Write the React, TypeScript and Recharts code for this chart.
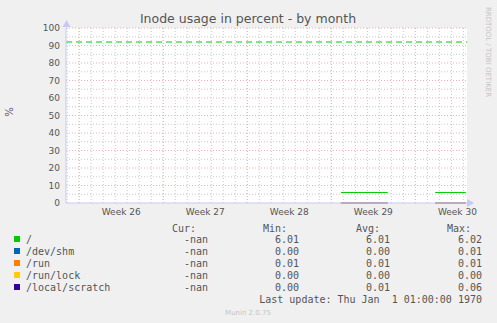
import { LineChart, Line, XAxis, YAxis, CartesianGrid, ReferenceLine } from 'recharts';

// x positions are days since the left edge of the month window
const days = [22.9, 24.9, 26.8, 28.8, 30.75, 33.3];
const rootFs = [6.01, 6.01, 6.02, null, 6.01, 6.02];
const devShm = [0.0, 0.0, 0.01, null, 0.0, 0.0];
const runFs = [0.01, 0.01, 0.01, null, 0.01, 0.01];
const runLock = [0.0, 0.0, 0.0, null, 0.0, 0.0];
const localScratch = [0.0, 0.01, 0.06, null, 0.0, 0.0];

const weekLabels = ['Week 26', 'Week 27', 'Week 28', 'Week 29', 'Week 30'];
const weekMids = [4.6, 11.6, 18.6, 25.6, 32.6];
const weekStarts = [1.1, 8.1, 15.1, 22.1, 29.1];
const dayLines = Array.from({ length: 34 }, (_, i) => 0.1 + i);
const yTicks = [0, 10, 20, 30, 40, 50, 60, 70, 80, 90, 100];
const yMinor = [5, 15, 25, 35, 45, 55, 65, 75, 85, 95];
const warning = 92;

const legendRows = [
  { name: '/', color: '#00cc00', cur: '-nan', min: '6.01', avg: '6.01', max: '6.02' },
  { name: '/dev/shm', color: '#0066b3', cur: '-nan', min: '0.00', avg: '0.00', max: '0.01' },
  { name: '/run', color: '#ff8000', cur: '-nan', min: '0.01', avg: '0.01', max: '0.01' },
  { name: '/run/lock', color: '#ffcc00', cur: '-nan', min: '0.00', avg: '0.00', max: '0.00' },
  { name: '/local/scratch', color: '#330099', cur: '-nan', min: '0.00', avg: '0.01', max: '0.06' },
];

const data = days.map((d, i) => ({
  day: d,
  root: rootFs[i],
  shm: devShm[i],
  run: runFs[i],
  lock: runLock[i],
  scratch: localScratch[i],
}));

const GRID_RED = '#ecb4b4';
const GRID_GRAY = '#c8c8c8';
const AXIS = '#c8c8f4';
const MONO = '"DejaVu Sans Mono", monospace';
const SANS = '"DejaVu Sans", sans-serif';

export default function App() {
  return (
    <div style={{ position: 'relative', width: 497, height: 323, background: '#f0f0f0' }}>
      <style>{`body{margin:0}`}</style>
      <LineChart width={497} height={323} data={data} margin={{ top: 28, right: 30, bottom: 100, left: 36 }}>
        <CartesianGrid fill="#ffffff" horizontal={false} vertical={false} />
        {dayLines.map((d) => (
          <ReferenceLine key={`d${d}`} x={d} stroke={GRID_GRAY} strokeDasharray="1 2" />
        ))}
        {yMinor.map((v) => (
          <ReferenceLine key={`m${v}`} y={v} stroke={GRID_GRAY} strokeDasharray="1 2" />
        ))}
        {weekStarts.map((d) => (
          <ReferenceLine key={`w${d}`} x={d} stroke={GRID_RED} strokeDasharray="1 2" />
        ))}
        {yTicks.slice(1).map((v) => (
          <ReferenceLine key={`y${v}`} y={v} stroke={GRID_RED} strokeDasharray="1 2" />
        ))}
        <ReferenceLine y={warning} stroke="#00cc00" strokeDasharray="6 4" />
        <XAxis
          dataKey="day"
          type="number"
          domain={[0, 33.4]}
          ticks={weekMids}
          tickFormatter={(v) => weekLabels[weekMids.indexOf(v)]}
          tickLine={false}
          tickSize={4}
          tickMargin={2}
          height={20}
          stroke={AXIS}
          tick={{ fill: '#555', fontSize: 9, fontFamily: SANS }}
          interval={0}
        />
        <YAxis
          type="number"
          domain={[0, 100]}
          ticks={yTicks}
          tickLine={false}
          tickSize={4}
          tickMargin={2}
          width={30}
          stroke={AXIS}
          tick={{ fill: '#555', fontSize: 9, fontFamily: SANS }}
          interval={0}
        />
        <Line dataKey="root" stroke="#00cc00" strokeWidth={1} dot={false} isAnimationActive={false} />
        <Line dataKey="shm" stroke="#0066b3" strokeWidth={1} dot={false} isAnimationActive={false} />
        <Line dataKey="run" stroke="#ff8000" strokeWidth={1} dot={false} isAnimationActive={false} />
        <Line dataKey="lock" stroke="#ffcc00" strokeWidth={1} dot={false} isAnimationActive={false} />
        <Line dataKey="scratch" stroke="#7a6fd0" strokeWidth={1} dot={false} isAnimationActive={false} />
      </LineChart>
      <svg width={497} height={323} style={{ position: 'absolute', left: 0, top: 0, pointerEvents: 'none' }}>
        <path d="M62.5,27 L66.5,20 L70.5,27 Z" fill={AXIS} />
        <path d="M467,199 L474,203 L467,207 Z" fill={AXIS} />
        <text x={248} y={23} textAnchor="middle" fontFamily={SANS} fontSize={12.5} fill="#555">
          Inode usage in percent - by month
        </text>
        <text x={13} y={112} transform="rotate(-90 13 112)" textAnchor="middle" fontFamily={SANS} fontSize={10} fill="#555">
          %
        </text>
        <text x={486} y={52} transform="rotate(90 486 52)" textAnchor="middle" fontFamily={SANS} fontSize={7} fill="#c4c4c4">
          RRDTOOL / TOBI OETIKER
        </text>
        <g fontFamily={MONO} fontSize={10} fill="#555">
          <text x={196} y={232} textAnchor="end">Cur:</text>
          <text x={287} y={232} textAnchor="end">Min:</text>
          <text x={380} y={232} textAnchor="end">Avg:</text>
          <text x={471} y={232} textAnchor="end">Max:</text>
          {legendRows.map((r, i) => (
            <g key={r.name}>
              <rect x={14} y={236 + i * 12} width={6} height={6} fill={r.color} />
              <text x={26} y={243 + i * 12}>{r.name}</text>
              <text x={208} y={243 + i * 12} textAnchor="end">{r.cur}</text>
              <text x={299} y={243 + i * 12} textAnchor="end">{r.min}</text>
              <text x={390} y={243 + i * 12} textAnchor="end">{r.avg}</text>
              <text x={482} y={243 + i * 12} textAnchor="end">{r.max}</text>
            </g>
          ))}
          <text x={482} y={303} textAnchor="end" xmlSpace="preserve" style={{ whiteSpace: 'pre' }}>
            {'Last update: Thu Jan  1 01:00:00 1970'}
          </text>
        </g>
        <text x={248} y={315} textAnchor="middle" fontFamily={SANS} fontSize={7} fill="#c4c4c4">
          Munin 2.0.75
        </text>
      </svg>
    </div>
  );
}
